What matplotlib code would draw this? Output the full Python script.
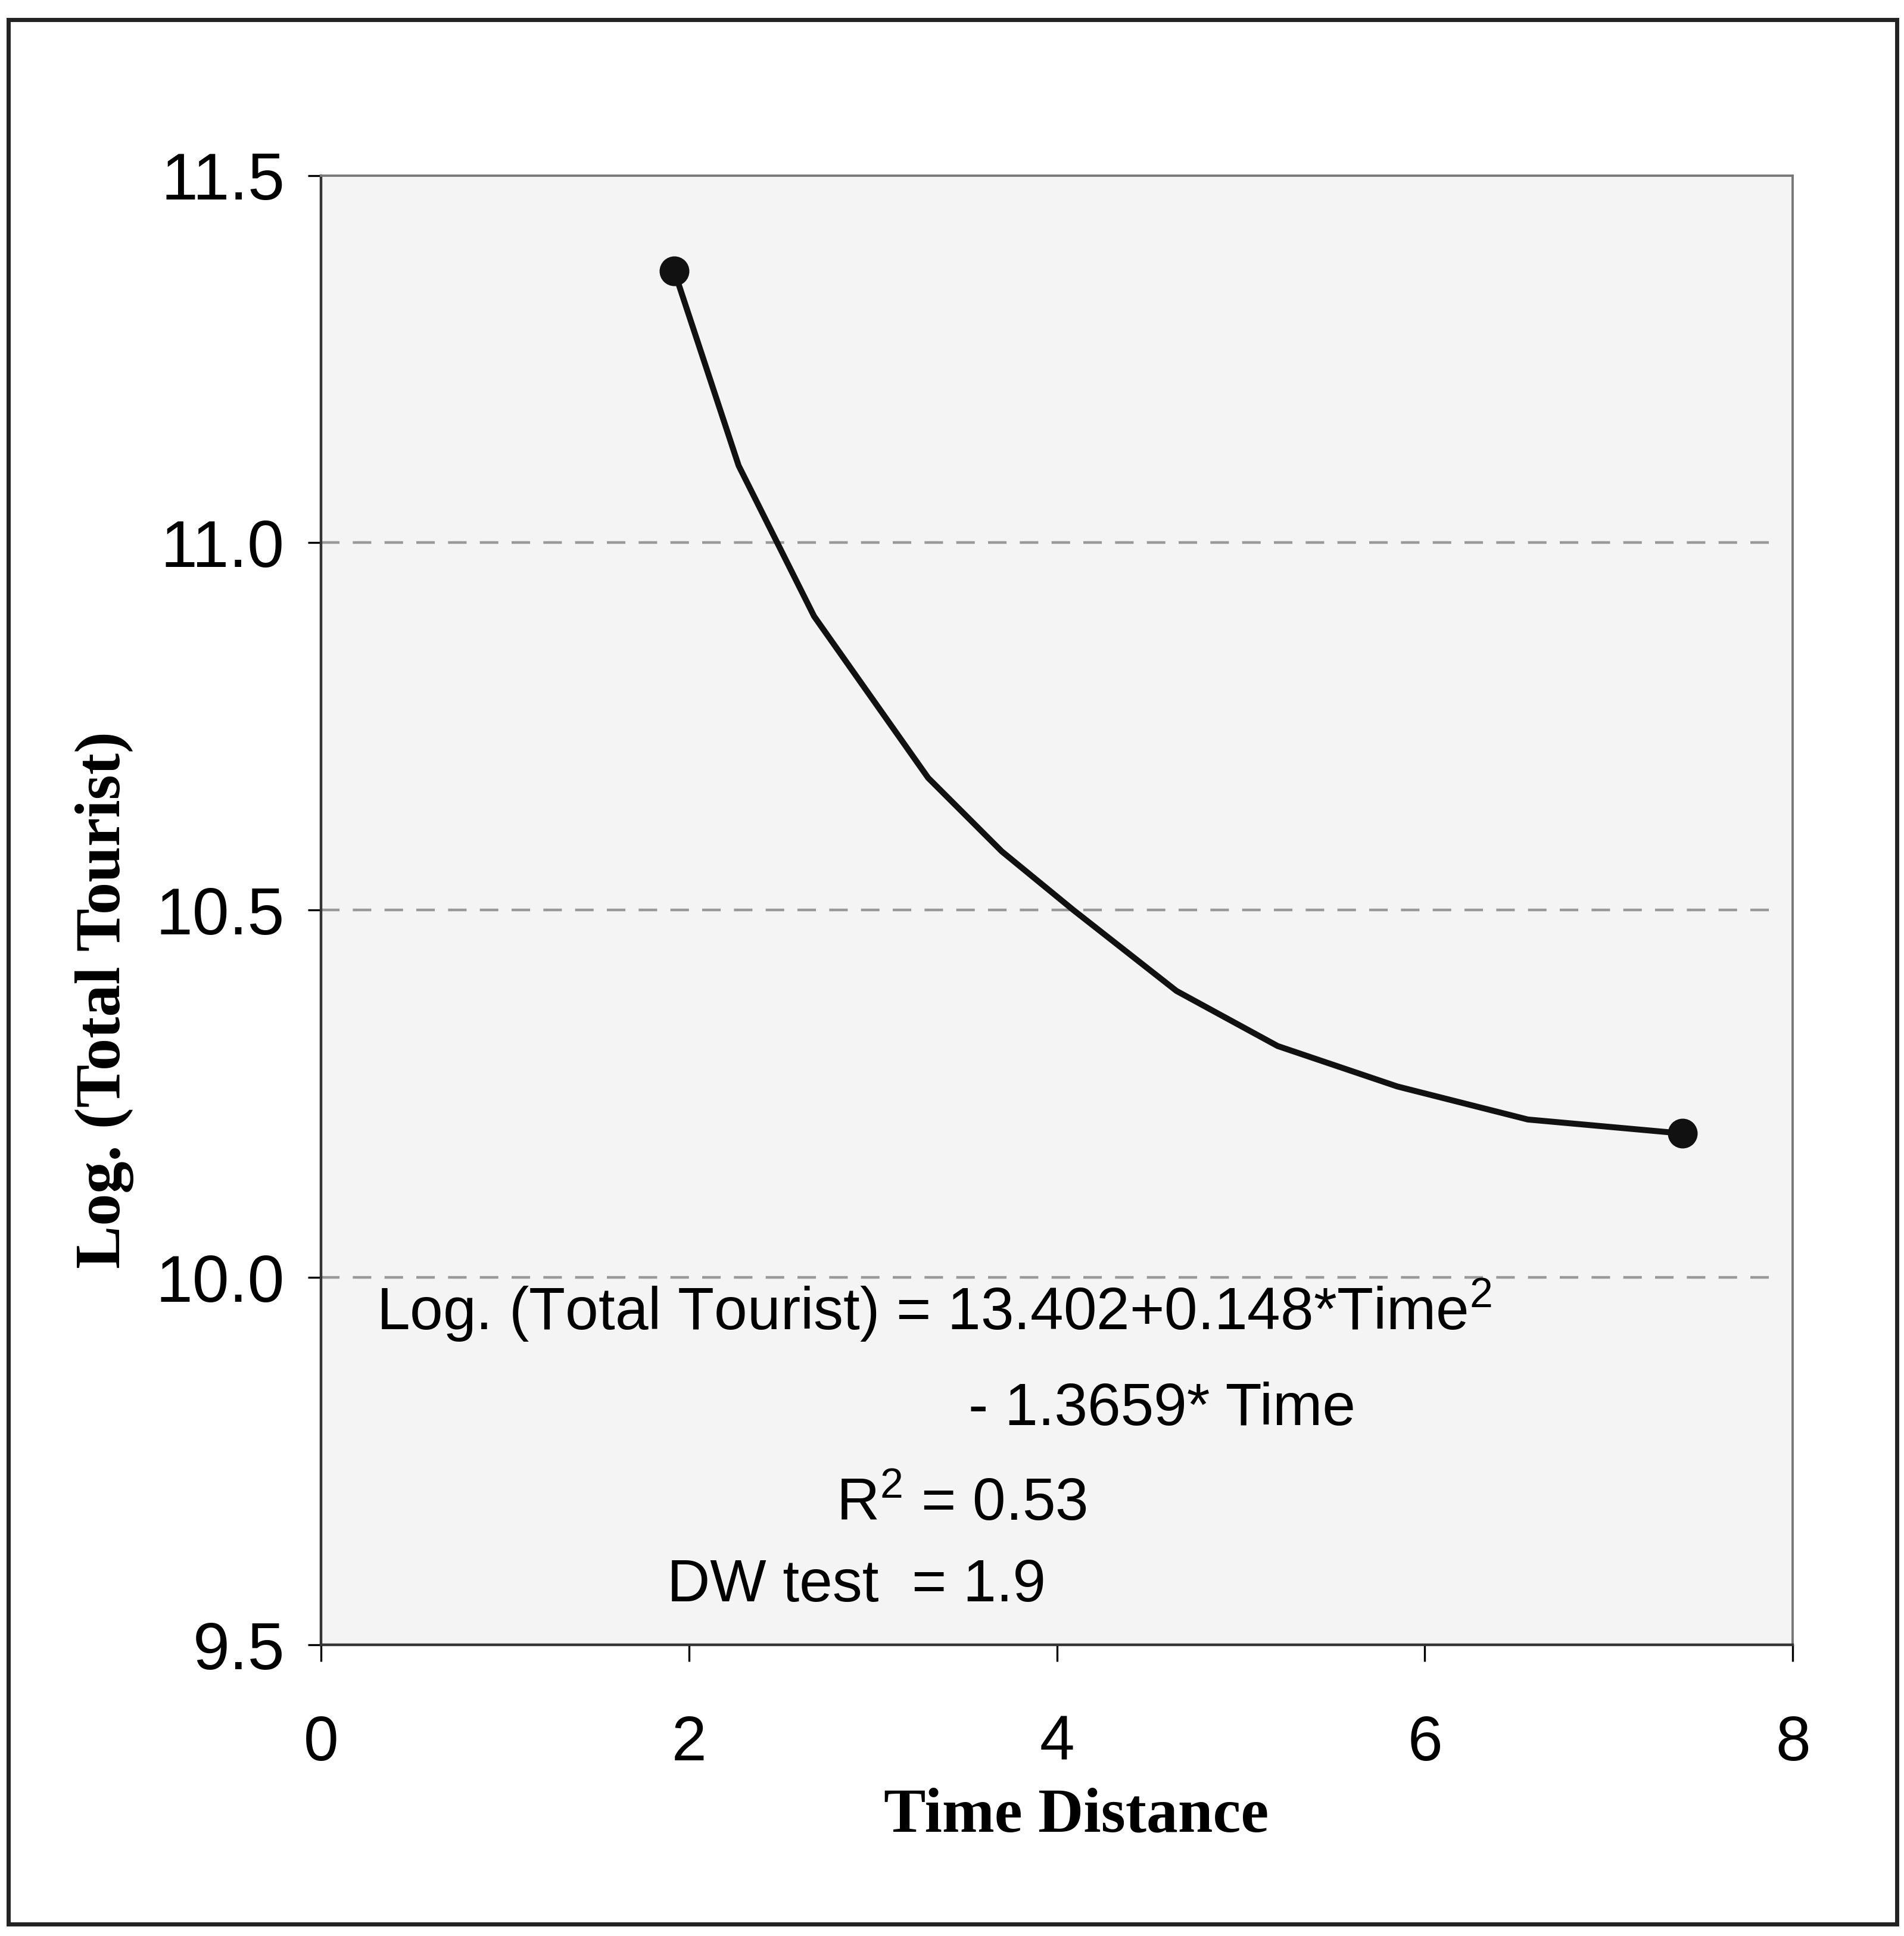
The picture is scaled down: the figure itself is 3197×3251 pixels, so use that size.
import numpy as np
import matplotlib
matplotlib.use("Agg")
import matplotlib.pyplot as plt
from matplotlib.patches import Rectangle

# curve
time_distance = [1.92, 2.27, 2.68, 3.30, 3.70, 4.09, 4.65, 5.20, 5.85, 6.56, 7.40]
log_tourist = [11.37, 11.105, 10.90, 10.68, 10.58, 10.50, 10.39, 10.315, 10.26, 10.215, 10.196]

x_ticks = [0, 2, 4, 6, 8]
y_ticks = [9.5, 10.0, 10.5, 11.0, 11.5]
grid_levels = [10.0, 10.5, 11.0]

eq_line1 = r"Log. (Total Tourist) = 13.402+0.148*Time$^{2}$"
eq_line2 = "- 1.3659* Time"
r2_text = r"R$^{2}$ = 0.53"
dw_text = "DW test  = 1.9"

plt.rcParams["mathtext.fontset"] = "custom"
plt.rcParams["mathtext.rm"] = "Liberation Sans"
plt.rcParams["mathtext.it"] = "Liberation Sans"
plt.rcParams["font.family"] = "Liberation Sans"

fig = plt.figure(figsize=(15.985, 16.255), dpi=200)
ax = fig.add_axes([0.1686, 0.1504, 0.773, 0.759])
ax.set_facecolor("#f4f4f4")

# outer frame around the whole chart
fig.patches.append(Rectangle((0.0044, 0.006), 0.992, 0.984, transform=fig.transFigure,
                             fill=False, edgecolor="#222222", lw=2.5))

for lvl in grid_levels:
    ax.axhline(lvl, xmax=0.99, color="#999999", lw=1.6, dashes=(7, 5), zorder=1)

ax.plot(time_distance, log_tourist, color="#111111", lw=3.6, zorder=3)
ax.plot([time_distance[0], time_distance[-1]], [log_tourist[0], log_tourist[-1]],
        "o", color="#111111", ms=17, zorder=4)

ax.set_xlim(0, 8)
ax.set_ylim(9.5, 11.5)
ax.set_xticks(x_ticks)
ax.set_yticks(y_ticks)
ax.set_yticklabels([f"{v:.1f}" for v in y_ticks])
ax.tick_params(axis="x", direction="out", length=10, width=1.2, pad=32, labelsize=38)
ax.tick_params(axis="y", direction="out", length=8, width=1.2, pad=14, labelsize=40)

for side in ["left", "bottom"]:
    ax.spines[side].set_color("#333333")
    ax.spines[side].set_linewidth(1.6)
for side in ["top", "right"]:
    ax.spines[side].set_color("#777777")
    ax.spines[side].set_linewidth(1.4)

ax.set_xlabel("Time Distance", fontsize=38, fontweight="bold", family="Liberation Serif")
ax.set_ylabel("Log. (Total Tourist)", fontsize=39, fontweight="bold", family="Liberation Serif")
ax.xaxis.set_label_coords(0.513, -0.097)
ax.yaxis.set_label_coords(-0.127, 0.439)

ax.text(0.30, 9.955, eq_line1, fontsize=36, va="center", ha="left")
ax.text(3.52, 9.82, eq_line2, fontsize=36, va="center", ha="left")
ax.text(2.80, 9.69, r2_text, fontsize=36, va="center", ha="left")
ax.text(1.88, 9.58, dw_text, fontsize=36, va="center", ha="left")

plt.savefig("out.png", dpi=200)
plt.close()
